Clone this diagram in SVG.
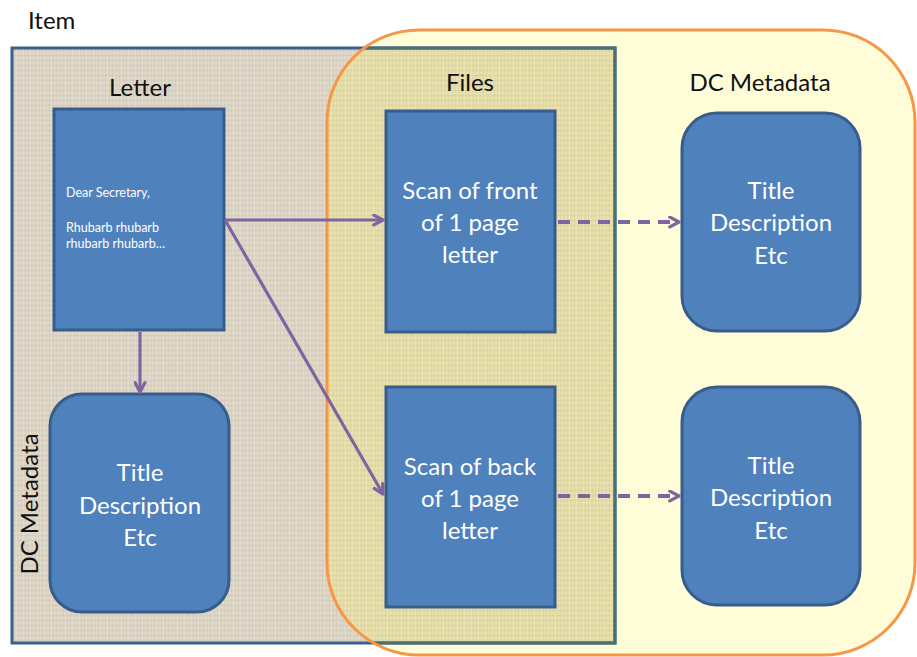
<svg xmlns="http://www.w3.org/2000/svg" width="917" height="657" viewBox="0 0 917 657">
  <defs>
    <pattern id="tex" width="7" height="5" patternUnits="userSpaceOnUse">
      <path d="M0,0.5 H7 M0.5,0 V5 M4,0 V5" stroke="#9a8f78" stroke-width="1" opacity="0.12"/>
      <path d="M0,3 H7 M2.5,0 V5" stroke="#ffffff" stroke-width="1" opacity="0.15"/>
    </pattern>
    <clipPath id="contClip">
      <rect x="327" y="30" width="588" height="625" rx="92" ry="92"/>
    </clipPath>
    <marker id="chev" viewBox="0 0 12 12" refX="10" refY="6" markerWidth="13" markerHeight="13" markerUnits="userSpaceOnUse" orient="auto">
      <path d="M1.5,1.5 L10,6 L1.5,10.5" fill="none" stroke="#8064a2" stroke-width="3" stroke-linecap="round" stroke-linejoin="round"/>
    </marker>
  </defs>
  <style>
    .lbl { font-family: Lato, "Liberation Sans", sans-serif; font-size: 24px; fill: #111; }
    .node { fill: #4f81bd; stroke: #385d8a; stroke-width: 3; }
    .ntxt { font-family: Lato, "Liberation Sans", sans-serif; font-size: 24px; fill: #ffffff; text-anchor: middle; }
    .small { font-family: Lato, "Liberation Sans", sans-serif; font-size: 12.5px; fill: #ffffff; }
    .conn { fill: none; stroke: #8064a2; stroke-width: 3.2; }
    .dash { fill: none; stroke: #8064a2; stroke-width: 4; stroke-dasharray: 12 8; }
  </style>
  <rect width="917" height="657" fill="#ffffff"/>

  <g id="container-bg">
    <rect x="327" y="30" width="588" height="625" rx="92" ry="92" fill="#fffdd8"/>
  </g>

  <g id="item">
    <text class="lbl" x="28" y="29">Item</text>
    <rect x="12" y="48" width="603" height="595" fill="#ddd5c5"/>
    <rect x="12" y="48" width="603" height="595" fill="#e6dea6" clip-path="url(#contClip)"/>
    <rect x="12" y="48" width="603" height="595" fill="url(#tex)"/>
    <rect x="12" y="48" width="603" height="595" fill="none" stroke="#3d5f8f" stroke-width="3"/>
    <rect x="12" y="48" width="603" height="595" fill="none" stroke="#4a7070" stroke-width="3" clip-path="url(#contClip)"/>
  </g>

  <g id="container">
    <rect x="327" y="30" width="588" height="625" rx="92" ry="92" fill="none" stroke="#f79646" stroke-width="3"/>
    <text class="lbl" x="470" y="91" text-anchor="middle">Files</text>
    <text class="lbl" x="760" y="91" text-anchor="middle">DC Metadata</text>
  </g>

  <g id="letter">
    <text class="lbl" x="140" y="96" text-anchor="middle">Letter</text>
    <rect class="node" x="54" y="109" width="170" height="221"/>
    <text class="small" x="66" y="197">Dear Secretary,</text>
    <text class="small" x="66" y="232">Rhubarb rhubarb</text>
    <text class="small" x="66" y="248">rhubarb rhubarb…</text>
  </g>

  <g id="letter-meta">
    <text class="lbl" transform="translate(38,504) rotate(-90)" text-anchor="middle">DC Metadata</text>
    <rect class="node" x="50" y="394" width="179" height="218" rx="32" ry="32"/>
    <text class="ntxt" x="140" y="481">Title</text>
    <text class="ntxt" x="140" y="514">Description</text>
    <text class="ntxt" x="140" y="546">Etc</text>
  </g>

  <g id="scan-front">
    <rect class="node" x="386" y="111" width="169" height="221"/>
    <text class="ntxt" x="470" y="199">Scan of front</text>
    <text class="ntxt" x="470" y="231">of 1 page</text>
    <text class="ntxt" x="470" y="263">letter</text>
  </g>

  <g id="scan-back">
    <rect class="node" x="386" y="387" width="169" height="220"/>
    <text class="ntxt" x="470" y="475">Scan of back</text>
    <text class="ntxt" x="470" y="507">of 1 page</text>
    <text class="ntxt" x="470" y="539">letter</text>
  </g>

  <g id="front-meta">
    <rect class="node" x="682" y="113" width="178" height="218" rx="35" ry="35"/>
    <text class="ntxt" x="771" y="199">Title</text>
    <text class="ntxt" x="771" y="231">Description</text>
    <text class="ntxt" x="771" y="264">Etc</text>
  </g>

  <g id="back-meta">
    <rect class="node" x="682" y="387" width="178" height="218" rx="35" ry="35"/>
    <text class="ntxt" x="771" y="474">Title</text>
    <text class="ntxt" x="771" y="506">Description</text>
    <text class="ntxt" x="771" y="539">Etc</text>
  </g>

  <g id="connectors">
    <line class="conn" x1="140" y1="332" x2="140" y2="392" marker-end="url(#chev)"/>
    <line class="conn" x1="225" y1="220" x2="383" y2="220" marker-end="url(#chev)"/>
    <line class="conn" x1="225" y1="220" x2="383" y2="494" marker-end="url(#chev)"/>
    <line class="dash" x1="558" y1="222" x2="679" y2="222" marker-end="url(#chev)"/>
    <line class="dash" x1="558" y1="496" x2="679" y2="496" marker-end="url(#chev)"/>
  </g>
</svg>
